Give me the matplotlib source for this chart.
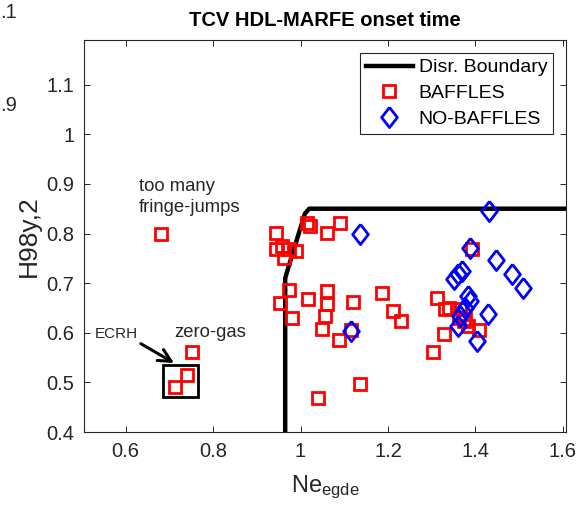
import matplotlib
matplotlib.use("Agg")
import matplotlib.pyplot as plt
from matplotlib.patches import Rectangle

plt.rcParams['font.family'] = ['Liberation Sans', 'DejaVu Sans']
plt.rcParams['mathtext.fontset'] = 'custom'
plt.rcParams['mathtext.rm'] = 'Liberation Sans'
plt.rcParams['mathtext.default'] = 'regular'

# ---- data ----
baffles_x = [0.680, 0.753, 0.741, 0.713,
             0.945, 0.945, 0.958, 0.973, 0.989, 0.962, 1.015, 1.022, 1.061, 1.091,
             0.973, 0.954, 0.981, 1.018, 1.061, 1.061, 1.056, 1.048, 1.089, 1.119,
             1.116, 1.135, 1.040, 1.187, 1.211, 1.230,
             1.311, 1.331, 1.329, 1.304, 1.339, 1.365, 1.377, 1.384, 1.373, 1.362,
             1.407, 1.392]
baffles_y = [0.800, 0.562, 0.515, 0.490,
             0.802, 0.768, 0.775, 0.768, 0.765, 0.751, 0.821, 0.815, 0.802, 0.821,
             0.687, 0.660, 0.630, 0.668, 0.684, 0.657, 0.633, 0.608, 0.586, 0.662,
             0.606, 0.497, 0.468, 0.681, 0.643, 0.623,
             0.670, 0.647, 0.598, 0.562, 0.650, 0.647, 0.627, 0.613, 0.623, 0.630,
             0.606, 0.768]

nobaffles_x = [1.135, 1.116, 1.432, 1.388, 1.447, 1.369, 1.360, 1.350, 1.483,
               1.508, 1.384, 1.388, 1.377, 1.365, 1.361, 1.428, 1.403]
nobaffles_y = [0.799, 0.603, 0.846, 0.770, 0.747, 0.724, 0.718, 0.709, 0.718,
               0.691, 0.674, 0.664, 0.650, 0.633, 0.613, 0.637, 0.583]

boundary_x = [0.965, 0.965, 0.975, 1.010, 1.020, 1.620]
boundary_y = [0.400, 0.710, 0.740, 0.840, 0.850, 0.850]

xticks = [0.6, 0.8, 1.0, 1.2, 1.4, 1.6]
xticklabels = ['0.6', '0.8', '1', '1.2', '1.4', '1.6']
yticks = [0.4, 0.5, 0.6, 0.7, 0.8, 0.9, 1.0, 1.1]
yticklabels = ['0.4', '0.5', '0.6', '0.7', '0.8', '0.9', '1', '1.1']

# ---- figure ----
fig = plt.figure(figsize=(5.87, 5.14), dpi=100)
ax = fig.add_axes([84/587, 1-432/514, (566-84)/587, (432-40)/514])

axcol = '#262626'
diamond = [(0, 1), (0.78, 0), (0, -1), (-0.78, 0), (0, 1)]

ax.plot(boundary_x, boundary_y, color='black', lw=3.2, label='Disr. Boundary',
        solid_joinstyle='round', zorder=3)
ax.plot(baffles_x, baffles_y, linestyle='none', marker='s', ms=8.5, mew=2.0,
        mfc='none', mec='red', label='BAFFLES', zorder=4)
ax.plot(nobaffles_x, nobaffles_y, linestyle='none', marker=diamond, ms=14.5, mew=2.0,
        mfc='none', mec='blue', label='NO-BAFFLES', zorder=5)

ax.set_xlim(0.505, 1.607)
ax.set_ylim(0.4, 1.19)
ax.set_xticks(xticks)
ax.set_xticklabels(xticklabels)
ax.set_yticks(yticks)
ax.set_yticklabels(yticklabels)
ax.tick_params(direction='in', length=4, width=0.7, colors=axcol, labelsize=14.5,
               top=True, right=True, pad=7)
for s in ax.spines.values():
    s.set_color(axcol)
    s.set_linewidth(0.8)

ax.set_title('TCV HDL-MARFE onset time', fontsize=14.5, fontweight='bold', pad=10)
ax.set_xlabel(r'Ne$_{egde}$', fontsize=17, color=axcol, labelpad=9)
ax.set_ylabel('H98y,2', fontsize=19, color=axcol, labelpad=4)

# annotations
ax.text(0.63, 0.874, 'too many\nfringe-jumps', fontsize=13.3, ha='left', va='center',
        linespacing=1.35, color='#262626')
ax.text(0.793, 0.600, 'zero-gas', fontsize=13.3, ha='center', va='center', color='#262626')
ax.text(0.58, 0.598, 'ECRH', fontsize=11, ha='center', va='center', color='#262626')
ax.add_patch(Rectangle((0.686, 0.471), 0.080, 0.065, fill=False, ec='black', lw=2, zorder=6))
ax.annotate('', xy=(0.711, 0.539), xytext=(0.635, 0.578),
            arrowprops=dict(arrowstyle='->,head_length=0.9,head_width=0.45',
                            color='black', lw=2.2, shrinkA=0, shrinkB=0))

leg = ax.legend(loc='upper right', bbox_to_anchor=(0.973, 0.967), borderaxespad=0,
                fontsize=14, frameon=True, fancybox=False, framealpha=1,
                edgecolor='#262626', handlelength=2.4, handletextpad=0.3,
                labelspacing=0.42, borderpad=0.3)
leg.get_frame().set_linewidth(0.8)

# fragments of neighbouring panel visible at the left edge of the image
fig.text(0.0, 1-12/514, '.1', fontsize=14.5, color=axcol, ha='left', va='center')
fig.text(0.0, 1-106/514, '.9', fontsize=14.5, color=axcol, ha='left', va='center')

fig.savefig('out.png', dpi=100)
